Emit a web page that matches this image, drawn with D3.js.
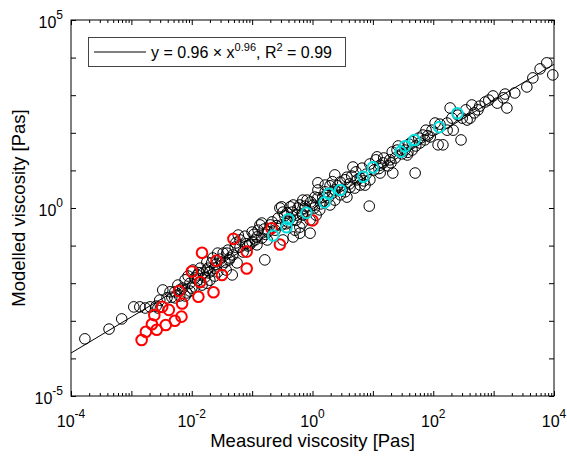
<!DOCTYPE html>
<html>
<head>
<meta charset="utf-8">
<script src="https://cdn.jsdelivr.net/npm/d3@7/dist/d3.min.js"></script>
<style>
  body { margin: 0; background: #fff; }
  svg { display: block; font-family: "Liberation Sans", Arial, sans-serif; }
</style>
</head>
<body>
<svg id="chart" width="567" height="457"></svg>
<script>
// values are log10 of [measured, modelled] viscosity in Pas
const blackPoints = [
    [-3.77,-3.48],[-3.37,-3.22],[-3.16,-2.95],[-2.96,-2.63],[-2.86,-2.63],[-2.77,-2.66],[-2.69,-2.63],[-2.59,-2.61],
    [-2.48,-2.18],[-2.53,-2.45],[-2.41,-2.39],[-2.33,-2.37],[-2.28,-2.23],[-2.11,-1.91],[-2.03,-2.00],[-1.95,-1.86],
    [-1.81,-1.73],[-1.73,-1.60],[-1.75,-1.44],[-1.67,-1.46],[-1.50,-1.52],[-1.57,-1.20],[-2.56,-2.66],[-2.20,-2.18],
    [-1.91,-1.78],[-1.75,-2.00],[-1.48,-1.20],[-1.37,-1.33],[-1.33,-1.78],[-1.23,-0.72],[-1.28,-1.04],[-1.04,-0.98],
    [-0.92,-0.77],[-0.87,-0.45],[-0.79,-1.38],[-0.54,0.00],[-0.37,0.03],[-0.75,-0.85],[-0.49,-0.85],[-0.32,-0.77],
    [-2.00,-2.13],[-1.75,-1.65],[-1.42,-1.20],[-1.20,-1.04],[-1.25,-1.46],[-1.00,-0.90],[-0.92,-0.98],[-0.84,-0.40],
    [-0.70,-0.45],[-0.51,0.03],[-0.42,-0.13],[-0.32,0.08],[-0.26,-0.19],[-0.29,-0.59],[-0.21,-0.67],[-0.17,-0.40],
    [-0.09,0.21],[0.01,0.08],[0.04,0.29],[0.12,-0.05],[-2.08,-2.26],[-0.16,0.21],[0.09,0.67],[0.17,0.29],
    [0.37,0.88],[0.46,0.69],[0.57,0.82],[0.67,1.09],[0.74,0.75],[0.87,0.61],[0.94,0.05],[1.07,1.36],
    [1.17,1.20],[1.28,1.28],[1.33,0.93],[1.40,1.54],[1.57,1.41],[1.70,0.93],[1.78,1.73],[1.95,1.89],
    [2.08,1.68],[-0.16,-0.19],[-0.21,-0.51],[-0.04,-0.67],[0.57,0.29],[0.34,0.40],[1.12,0.93],[2.28,2.66],
    [2.16,1.68],[2.46,1.81],[2.64,2.74],[2.61,2.39],[2.86,2.82],[2.99,2.98],[3.06,2.79],[3.16,2.93],
    [3.22,2.66],[3.55,3.22],[3.65,3.46],[3.77,3.70],[3.88,3.86],[3.98,3.54],[2.03,2.26],[2.23,2.07],
    [1.83,1.94],[1.65,1.54],[2.56,2.34],[2.33,2.07],[1.91,1.92],[2.74,2.61],
    [-2.36,-2.23],[-2.23,-2.05],[-2.15,-2.13],[-2.06,-1.81],[-1.98,-1.65],[-1.90,-1.92],[-1.86,-1.60],[-1.78,-1.84],
    [-1.70,-1.70],[-1.65,-1.33],[-1.62,-1.60],[-1.53,-1.36],[-1.45,-1.44],[-1.40,-1.12],[-1.32,-1.25],[-1.27,-0.93],
    [-1.20,-0.85],[-1.15,-1.17],[-1.12,-0.75],[-1.07,-1.01],[-1.00,-0.64],[-0.95,-0.85],[-0.90,-0.59],[-0.84,-0.80],
    [-0.80,-0.56],[-0.74,-0.64],[-0.67,-0.37],[-0.62,-0.59],[-0.57,-0.27],[-0.51,-0.45],[-0.46,-0.21],[-0.41,-0.37],
    [-0.34,-0.11],[-0.27,-0.32],[-0.24,0.00],[-0.17,-0.16],[-0.12,0.05],[-0.08,-0.11],[-0.03,0.16],[0.03,0.00],
    [0.09,0.27],[0.14,0.11],[0.21,0.43],[0.26,0.27],[0.29,0.59],[0.37,0.48],[0.42,0.59],[0.49,0.48],
    [0.54,0.75],[0.61,0.64],[0.65,0.85],[0.72,0.96],[0.79,0.80],[0.82,1.06],[0.89,0.90],[0.95,1.17],
    [1.02,1.01],[1.05,1.28],[1.12,1.14],[1.18,1.33],[1.25,1.12],[1.32,1.49],[1.37,1.33],[1.42,1.65],
    [1.48,1.44],[1.53,1.54],[1.60,1.70],[1.65,1.76],[1.71,1.65],[1.76,1.86],[1.86,1.81],[1.88,2.07],
    [1.98,2.07],[2.11,2.23],[2.23,2.26],[2.31,2.39],[2.41,2.47],[2.48,2.39],[2.54,2.61],[2.68,2.53],
    [2.77,2.71],[2.92,2.87],[3.19,3.03],[3.35,3.06],
    [-2.28,-2.39],[-2.20,-2.34],[-2.11,-2.34],[-2.03,-2.21],[-1.95,-2.10],[-1.83,-2.05],[-1.70,-1.92],[-1.62,-1.81],
    [-1.43,-1.65],[-1.57,-1.70],
    [-0.49,-0.11],[-0.37,-0.27],[-0.21,0.08],[-0.04,-0.32],[0.06,-0.19],[0.29,0.08],[0.37,0.21],[0.54,0.43],
    [0.70,0.53],[0.79,0.61],[0.95,0.75],[0.46,0.35],[0.21,0.61],[0.09,0.48],
    [-1.88,-1.72],[-1.60,-1.50],[-1.38,-1.38],[-1.10,-0.95],[-0.97,-0.70],[-0.78,-0.70],[-0.60,-0.47],[-0.44,-0.42],
    [-0.13,-0.02],[0.18,0.18],[0.33,0.70],[0.62,0.55],[0.85,0.72],[1.10,1.05],[1.30,1.20],[1.58,1.48]
];
const redPoints = [
    [-2.83,-3.51],[-2.76,-3.29],[-2.66,-3.09],[-2.58,-3.24],[-2.43,-3.11],[-2.28,-3.00],[-2.17,-2.89],[-2.62,-2.85],
    [-2.49,-2.63],[-2.38,-2.71],[-2.16,-2.54],[-2.21,-2.21],[-1.89,-2.36],[-1.64,-2.24],[-2.00,-1.69],[-1.86,-1.97],
    [-1.59,-1.40],[-1.83,-1.19],[-1.50,-1.78],[-1.31,-0.82],[-1.09,-1.16],[-1.09,-1.61],[-0.68,-0.54],[-0.54,-0.97],
    [0.00,-0.33]
];
const cyanPoints = [
    [-0.65,-0.73],[-0.43,-0.51],[-0.40,-0.30],[-0.10,-0.13],[0.20,0.15],[0.27,0.38],[0.46,0.48],[0.84,0.83],
    [1.00,1.08],[1.46,1.50],[1.53,1.64],[1.69,1.81],[2.10,2.15],[2.40,2.52]
];
// power-law fit shown in the legend
const fitA = 0.96, fitB = 0.96;
const xDomain = [1e-4, 1e4];
const yDomain = [1e-5, 1e5];
const xLabelPowers = [-4, -2, 0, 2, 4];
const yLabelPowers = [-5, 0, 5];

let svg = d3.select('#chart');
let plotLeft = 71, plotRight = 554, plotTop = 20, plotBottom = 396;

let xScale = d3.scaleLog().domain(xDomain).range([plotLeft, plotRight]);
let yScale = d3.scaleLog().domain(yDomain).range([plotBottom, plotTop]);

// decade and minor tick values
let xMajor = d3.range(-4, 5).map(p => Math.pow(10, p));
let xMinor = [];
for (let p = -4; p < 4; p++) {
    for (let m = 2; m < 10; m++) xMinor.push(m * Math.pow(10, p));
}
let yMajor = d3.range(-5, 6).map(p => Math.pow(10, p));

function tickAxis(gen, values, size, transform) {
    svg.append('g')
        .attr('transform', transform)
        .call(gen.tickValues(values).tickSize(size).tickFormat(''))
        .call(g => g.select('.domain').remove())
        .selectAll('line').attr('stroke', '#000');
}
tickAxis(d3.axisBottom(xScale), xMinor, -3, `translate(0,${plotBottom})`);
tickAxis(d3.axisBottom(xScale), xMajor, -5, `translate(0,${plotBottom})`);
tickAxis(d3.axisTop(xScale), xMinor, -3, `translate(0,${plotTop})`);
tickAxis(d3.axisTop(xScale), xMajor, -5, `translate(0,${plotTop})`);
tickAxis(d3.axisLeft(yScale), yMajor, -5, `translate(${plotLeft},0)`);
tickAxis(d3.axisRight(yScale), yMajor, -5, `translate(${plotRight},0)`);

svg.append('rect')
    .attr('x', plotLeft).attr('y', plotTop)
    .attr('width', plotRight - plotLeft).attr('height', plotBottom - plotTop)
    .attr('fill', 'none').attr('stroke', '#000');

// tick labels as 10^n
xLabelPowers.forEach(function (p) {
    let t = svg.append('text')
        .attr('x', xScale(Math.pow(10, p)))
        .attr('y', plotBottom + 31)
        .attr('text-anchor', 'middle')
        .style('font-size', '16px');
    t.append('tspan').text('10');
    t.append('tspan').attr('dy', -9).style('font-size', '12px').text(p);
});
yLabelPowers.forEach(function (p) {
    let t = svg.append('text')
        .attr('x', 63)
        .attr('y', yScale(Math.pow(10, p)) + 8)
        .attr('text-anchor', 'end')
        .style('font-size', '16px');
    t.append('tspan').text('10');
    t.append('tspan').attr('dy', -9).style('font-size', '12px').text(p);
});

svg.append('text')
    .attr('x', (plotLeft + plotRight) / 2).attr('y', 447)
    .attr('text-anchor', 'middle')
    .style('font-size', '18.5px')
    .text('Measured viscosity [Pas]');
svg.append('text')
    .attr('transform', `translate(25,${(plotTop + plotBottom) / 2}) rotate(-90)`)
    .attr('text-anchor', 'middle')
    .style('font-size', '18.5px')
    .text('Modelled viscosity [Pas]');

let plot = svg.append('g');

function drawPoints(points, color, width) {
    plot.selectAll(null)
        .data(points)
        .enter()
        .append('circle')
        .attr('cx', d => xScale(Math.pow(10, d[0])))
        .attr('cy', d => yScale(Math.pow(10, d[1])))
        .attr('r', 5.3)
        .attr('fill', 'none')
        .attr('stroke', color)
        .attr('stroke-width', width);
}
drawPoints(blackPoints, '#000', 1);

// fit line
plot.append('line')
    .attr('x1', xScale(xDomain[0]))
    .attr('y1', yScale(fitA * Math.pow(xDomain[0], fitB)))
    .attr('x2', xScale(xDomain[1]))
    .attr('y2', yScale(fitA * Math.pow(xDomain[1], fitB)))
    .attr('stroke', '#000').attr('stroke-width', 1);

drawPoints(redPoints, '#ff0000', 2);
drawPoints(cyanPoints, '#00e0e0', 2);

// legend
let legend = svg.append('g');
legend.append('rect')
    .attr('x', 88.5).attr('y', 37.5).attr('width', 257).attr('height', 29)
    .attr('fill', '#fff').attr('stroke', '#444');
legend.append('line')
    .attr('x1', 94).attr('x2', 146).attr('y1', 52).attr('y2', 52)
    .attr('stroke', '#000');
let lt = legend.append('text')
    .attr('x', 151).attr('y', 58)
    .style('font-size', '16px');
lt.append('tspan').text('y = 0.96 \u00d7 x');
lt.append('tspan').attr('dy', -7).style('font-size', '11px').text('0.96');
lt.append('tspan').attr('dy', 7).text(', R');
lt.append('tspan').attr('dy', -7).style('font-size', '11px').text('2');
lt.append('tspan').attr('dy', 7).text(' = 0.99');
</script>
</body>
</html>
